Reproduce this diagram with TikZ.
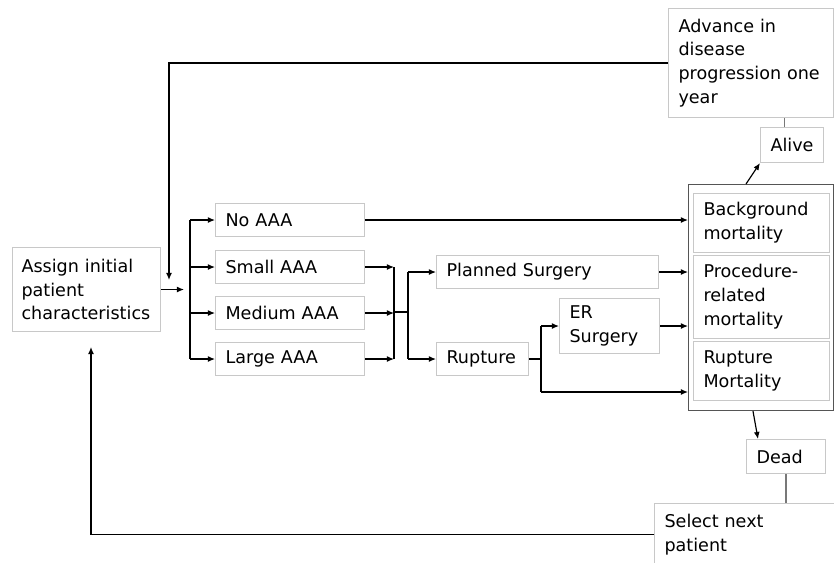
\documentclass[tikz,border=0pt]{standalone}
\usepackage{fontspec}
\setmainfont{DejaVu Sans}
\definecolor{boxgray}{RGB}{200,200,200}
\definecolor{framegray}{RGB}{85,85,85}
\definecolor{linkgray}{RGB}{120,120,120}
\usetikzlibrary{arrows.meta}

\begin{document}
\begin{tikzpicture}[
    x=0.03cm, y=-0.03cm,
    box/.style={draw=boxgray, line width=0.9pt, anchor=north west, align=left, inner xsep=0.3cm, inner ysep=0pt, font=\fontsize{15pt}{20.4pt}\selectfont},
    aaa/.style={box, text width=3.87cm, minimum height=0.99cm},
    mortbox/.style={box, text width=3.48cm},
    arr/.style={-{Latex[length=6pt, width=5pt]}, line width=1pt},
    link/.style={line width=1pt},
  ]
  \useasboundingbox (0,0) rectangle (834,563);

  \node[box, inner xsep=0.27cm, text width=3.9cm, minimum height=2.52cm] (assign) at (12,247) {Assign initial\\patient\\characteristics};
  \node[aaa] (noaaa) at (215,203) {No AAA};
  \node[aaa] (small) at (215,250) {Small AAA};
  \node[aaa] (medium) at (215,296) {Medium AAA};
  \node[aaa] (large) at (215,342) {Large AAA};
  \node[box, text width=6.06cm, minimum height=0.99cm] (planned) at (436,255) {Planned Surgery};
  \node[box, text width=2.16cm, minimum height=0.99cm] (rupture) at (436,342) {Rupture};
  \node[box, text width=2.4cm, minimum height=1.65cm] (er) at (559,298) {ER\\Surgery};

  \node[draw=framegray, line width=1pt, anchor=north west, minimum width=4.35cm, minimum height=6.78cm, inner sep=0pt] (mort) at (688,184) {};
  \node[mortbox, minimum height=1.77cm] (bgmort) at (693,193) {Background\\mortality};
  \node[mortbox, minimum height=2.49cm] (procmort) at (693,255) {Procedure-\\related\\mortality};
  \node[mortbox, minimum height=1.77cm] (rupmort) at (693,341) {Rupture\\Mortality};

  \node[box, text width=4.35cm, minimum height=3.27cm] (adv) at (668,8) {Advance in\\disease\\progression one\\year};
  \node[box, text width=1.29cm, minimum height=1.05cm] (alive) at (760,127) {Alive};
  \node[box, text width=1.77cm, minimum height=1.02cm] (dead) at (746,439) {Dead};
  \node[box, text width=4.98cm, minimum height=1.86cm] (sel) at (654,503) {Select next\\patient};

  \coordinate (split) at (190,291);
  \coordinate (merge) at (394,312);
  \coordinate (fork) at (408,312);
  \coordinate (rfork) at (541,358);
  \coordinate (rlow) at (541,392);
  \coordinate (upin) at (169,280);
  \coordinate (backin) at (91,347);

  \draw[arr, shorten >=0.18cm] (assign.east) -- (assign.east -| split);
  \draw[link] (split |- noaaa.west) -- (split |- large.west);
  \draw[arr] (split |- noaaa.west) -- (noaaa.west); \draw[arr] (split |- small.west) -- (small.west);
  \draw[arr] (split |- medium.west) -- (medium.west); \draw[arr] (split |- large.west) -- (large.west);

  \draw[arr] (small.east) -- (small.east -| merge); \draw[arr] (medium.east) -- (medium.east -| merge);
  \draw[arr] (large.east) -- (large.east -| merge);
  \draw[link] (merge |- small.east) -- (merge |- large.east); \draw[link] (merge) -- (fork);
  \draw[link] (fork |- planned.west) -- (fork |- rupture.west);
  \draw[arr] (fork |- planned.west) -- (planned.west); \draw[arr] (fork |- rupture.west) -- (rupture.west);

  \draw[link] (rupture.east) -- (rupture.east -| rfork); \draw[link] (rfork |- er.west) -- (rlow);
  \draw[arr] (rfork |- er.west) -- (er.west); \draw[arr] (rlow) -- (rlow -| mort.west);
  \draw[arr] (noaaa.east) -- (noaaa.east -| mort.west); \draw[arr] (planned.east) -- (planned.east -| mort.west);
  \draw[arr] (er.east) -- (er.east -| mort.west);

  \draw[arr] ([xshift=1.74cm]mort.north west) -- (alive.south west);
  \draw[arr] ([xshift=1.95cm]mort.south west) -- ([xshift=0.36cm]dead.north west);
  \draw[link, linkgray] ([xshift=-0.22cm]alive.north) -- ([xshift=-0.22cm]alive.north |- adv.south);
  \draw[link, linkgray] (dead.south) -- (dead.south |- sel.north);

  \draw[arr] (adv.west) -| (upin);
  \draw[arr] (sel.west) -| (backin);
\end{tikzpicture}
\end{document}
